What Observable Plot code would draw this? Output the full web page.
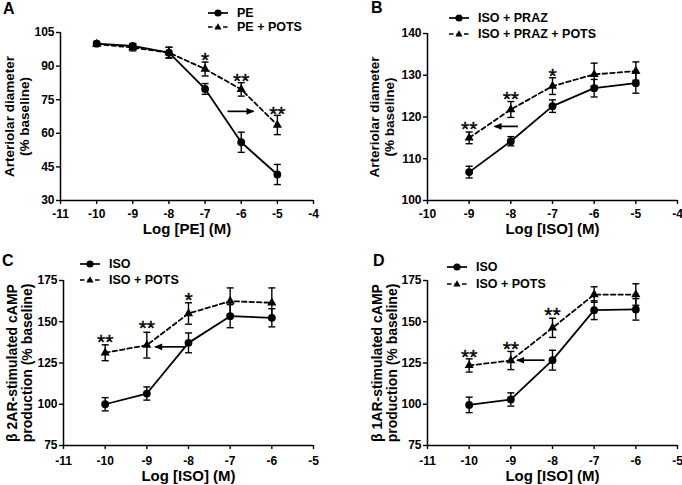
<!DOCTYPE html>
<html><head><meta charset="utf-8">
<script src="https://cdn.jsdelivr.net/npm/d3@7"></script>
<script src="https://cdn.jsdelivr.net/npm/@observablehq/plot@0.6"></script>
<style>
body{margin:0;background:#fff;}
#wrap{position:relative;width:682px;height:485px;overflow:hidden;font-family:"Liberation Sans",Arial,sans-serif;background:#fff;}
.panel{position:absolute;}
.letter{position:absolute;font-weight:bold;font-size:16px;line-height:16px;}
.row{position:absolute;display:flex;align-items:center;height:14px;font-weight:bold;font-size:12.5px;white-space:nowrap;}
.row span{margin-left:8px;}
</style></head><body><div id="wrap"></div>
<script>
// ---------- data ----------
// Panel A
const xA = [-10, -9, -8, -7, -6, -5];
const peMean = [100, 99, 96, 79.8, 56, 41.6];
const peErr = [1, 1, 2.4, 2.4, 4.5, 4.5];
const pePotsMean = [99.8, 98.3, 96, 88.7, 79.6, 63.7];
const pePotsErr = [0.8, 1.5, 2.4, 3.1, 3, 4.3];
const sigAx = [-7, -6, -5], sigAy = [95.4, 85.8, 71.1], sigAt = ["*", "**", "**"];
const arrowA = {x1: -6.38, x2: -5.66, y: 69.8};
// Panel B
const xB = [-9, -8, -7, -6, -5];
const isoPrazMean = [106.8, 114.2, 122.6, 126.9, 128.1];
const isoPrazErr = [1.4, 1.1, 1.5, 2.1, 2.4];
const isoPrazPotsMean = [115, 121.8, 127.4, 130.2, 131];
const isoPrazPotsErr = [1.4, 1.9, 2, 2.7, 2.2];
const sigBx = [-9, -8, -7], sigBy = [118.4, 125.7, 131.2], sigBt = ["**", "**", "*"];
const arrowB = {x1: -7.83, x2: -8.39, y: 117.75};
// Panel C
const xC = [-10, -9, -8, -7, -6];
const isoCMean = [100, 106.5, 137.2, 153.4, 152.4];
const isoCErr = [4, 4, 6, 7, 5.5];
const isoPotsCMean = [131.2, 135.8, 155, 162.5, 161.5];
const isoPotsCErr = [4.8, 7.8, 6.5, 8, 9];
const sigCx = [-10, -9, -8], sigCy = [141.3, 149.4, 166.5], sigCt = ["**", "**", "*"];
const arrowC = {x1: -8.08, x2: -8.8, y: 134.8};
// Panel D
const xD = [-10, -9, -8, -7, -6];
const isoDMean = [99.6, 102.9, 126.7, 157, 157.5];
const isoDErr = [4.7, 4, 6, 5.7, 6.5];
const isoPotsDMean = [123.5, 126.5, 146.3, 166.5, 166.5];
const isoPotsDErr = [4, 5.5, 5.8, 4.7, 6.5];
const sigDx = [-10, -9, -8], sigDy = [132.2, 136.8, 157.4], sigDt = ["**", "**", "**"];
const arrowD = {x1: -8.19, x2: -8.85, y: 126.7};

// tick values
const xTicksA = [-11, -10, -9, -8, -7, -6, -5, -4];
const yTicksA = [30, 45, 60, 75, 90, 105];
const xTicksB = [-10, -9, -8, -7, -6, -5, -4];
const yTicksB = [100, 110, 120, 130, 140];
const xTicksCD = [-11, -10, -9, -8, -7, -6, -5];
const yTicksCD = [75, 100, 125, 150, 175];

// ---------- helpers ----------
const FONT = '"Liberation Sans", Arial, sans-serif';
const capSymbol = {draw(ctx, size) { const r = Math.sqrt(size / Math.PI); ctx.moveTo(-r, 0); ctx.lineTo(r, 0); }};
const headRight = {draw(ctx) { ctx.moveTo(1, 0); ctx.lineTo(-7, -3.3); ctx.lineTo(-7, 3.3); ctx.closePath(); }};
const headLeft = {draw(ctx) { ctx.moveTo(-1, 0); ctx.lineTo(7, -3.3); ctx.lineTo(7, 3.3); ctx.closePath(); }};

function panel(o) {
  const d1 = o.xs.map((x, i) => ({x, y: o.m1[i], e: o.e1[i]}));
  const d2 = o.xs.map((x, i) => ({x, y: o.m2[i], e: o.e2[i]}));
  const all = d1.concat(d2);
  const caps = all.flatMap(d => [{x: d.x, y: d.y + d.e}, {x: d.x, y: d.y - d.e}]);
  const sig = o.sx.map((x, i) => ({x, y: o.sy[i], t: o.st[i]}));
  const arr = [o.arrow];
  return Plot.plot({
    width: o.w, height: o.h,
    marginLeft: o.ml, marginRight: o.mr, marginTop: o.mt, marginBottom: o.mb,
    style: {fontFamily: FONT, fontSize: "12px", fontWeight: "bold", color: "black", background: "transparent", overflow: "visible"},
    x: {domain: o.xDomain},
    y: {domain: o.yDomain},
    marks: [
      Plot.axisX({ticks: o.xTicks, tickSize: 4, tickPadding: o.xtp, strokeWidth: 1.4, tickFormat: d => String(d), label: null}),
      Plot.axisY({ticks: o.yTicks, tickSize: 4, tickPadding: 2, strokeWidth: 1.4, tickFormat: d => String(d), label: null}),
      Plot.ruleX([o.xDomain[0]], {strokeWidth: 1.5}),
      Plot.ruleY([o.yDomain[0]], {strokeWidth: 1.5}),
      Plot.ruleX(all, {x: "x", y1: d => d.y - d.e, y2: d => d.y + d.e, strokeWidth: 1.4}),
      Plot.dot(caps, {x: "x", y: "y", symbol: capSymbol, r: 3.5, fill: "none", stroke: "black", strokeWidth: 1.4}),
      Plot.line(d1, {x: "x", y: "y", stroke: "black", strokeWidth: 1.8}),
      Plot.line(d2, {x: "x", y: "y", stroke: "black", strokeWidth: 1.8, strokeDasharray: "4.5,3"}),
      Plot.dot(d1, {x: "x", y: "y", symbol: "circle", r: 3.9, fill: "black", stroke: "none"}),
      Plot.dot(d2, {x: "x", y: "y", symbol: "triangle", r: 3.4, fill: "black", stroke: "none"}),
      Plot.text(sig, {x: "x", y: "y", text: "t", fontFamily: FONT, fontWeight: "normal", fontSize: 21, dy: 6, lineAnchor: "middle", fill: "black", stroke: "black", strokeWidth: 0.4}),
      Plot.link(arr, {x1: "x1", x2: "x2", y1: "y", y2: "y", stroke: "black", strokeWidth: 1.7}),
      Plot.dot(arr, {x: "x2", y: "y", symbol: o.arrow.x2 > o.arrow.x1 ? headRight : headLeft, r: 4, fill: "black", stroke: "none"}),
      Plot.text([o.yTitle], {frameAnchor: "left", textAnchor: "middle", rotate: -90, dx: o.ytDx, fontSize: o.ytSize, lineHeight: 1.1, lineAnchor: "middle", fill: "black"}),
      Plot.text([o.xTitle], {frameAnchor: "bottom", textAnchor: "middle", dy: o.xtDy, fontSize: 15, lineAnchor: "middle", fill: "black"})
    ]
  });
}

const wrap = document.getElementById("wrap");
function place(node, left, top) {
  const d = document.createElement("div");
  d.className = "panel"; d.style.left = left + "px"; d.style.top = top + "px";
  d.appendChild(node); wrap.appendChild(d);
}
function letter(t, left, top) {
  const d = document.createElement("div");
  d.className = "letter"; d.textContent = t; d.style.left = left + "px"; d.style.top = top + "px";
  wrap.appendChild(d);
}
function legendRow(label, dashed, left, yc) {
  const d = document.createElement("div");
  d.className = "row"; d.style.left = left + "px"; d.style.top = (yc - 7) + "px";
  const marker = dashed
    ? '<path d="M11,3.2 L14.6,9.5 L7.4,9.5 Z" fill="black"/>'
    : '<circle cx="11" cy="7" r="3.6" fill="black"/>';
  d.innerHTML = '<svg width="22" height="14"><line x1="1" y1="7" x2="21" y2="7" stroke="black" stroke-width="1.7"' +
    (dashed ? ' stroke-dasharray="4.5,3"' : '') + '/>' + marker + '</svg><span>' + label + '</span>';
  wrap.appendChild(d);
}

place(panel({xs: xA, m1: peMean, e1: peErr, m2: pePotsMean, e2: pePotsErr,
  sx: sigAx, sy: sigAy, st: sigAt, arrow: arrowA,
  w: 341, h: 242, ml: 60, mr: 28, mt: 32, mb: 42, xtp: 5,
  xDomain: [-11, -4], yDomain: [30, 105], xTicks: xTicksA, yTicks: yTicksA,
  yTitle: "Arteriolar diameter\n(% baseline)", ytDx: -44, ytSize: 13.5,
  xTitle: "Log [PE] (M)", xtDy: 29}), 0, 0);

place(panel({xs: xB, m1: isoPrazMean, e1: isoPrazErr, m2: isoPrazPotsMean, e2: isoPrazPotsErr,
  sx: sigBx, sy: sigBy, st: sigBt, arrow: arrowB,
  w: 341, h: 242, ml: 86, mr: 5, mt: 33, mb: 42, xtp: 5,
  xDomain: [-10, -4], yDomain: [100, 140], xTicks: xTicksB, yTicks: yTicksB,
  yTitle: "Arteriolar diameter\n(% baseline)", ytDx: -46, ytSize: 13.5,
  xTitle: "Log [ISO] (M)", xtDy: 29}), 341, 0);

place(panel({xs: xC, m1: isoCMean, e1: isoCErr, m2: isoPotsCMean, e2: isoPotsCErr,
  sx: sigCx, sy: sigCy, st: sigCt, arrow: arrowC,
  w: 341, h: 243, ml: 63, mr: 28, mt: 38, mb: 40, xtp: 7,
  xDomain: [-11, -5], yDomain: [75, 175], xTicks: xTicksCD, yTicks: yTicksCD,
  yTitle: "β 2AR-stimulated cAMP\nproduction (% baseline)", ytDx: -44, ytSize: 14,
  xTitle: "Log [ISO] (M)", xtDy: 31}), 0, 242);

place(panel({xs: xD, m1: isoDMean, e1: isoDErr, m2: isoPotsDMean, e2: isoPotsDErr,
  sx: sigDx, sy: sigDy, st: sigDt, arrow: arrowD,
  w: 341, h: 243, ml: 86, mr: 5, mt: 38, mb: 40, xtp: 7,
  xDomain: [-11, -5], yDomain: [75, 175], xTicks: xTicksCD, yTicks: yTicksCD,
  yTitle: "β 1AR-stimulated cAMP\nproduction (% baseline)", ytDx: -43, ytSize: 14,
  xTitle: "Log [ISO] (M)", xtDy: 31}), 341, 242);

letter("A", 3, 1);
letter("B", 371, 0);
letter("C", 2, 253);
letter("D", 373, 253);

legendRow("PE", false, 207, 13);
legendRow("PE + POTS", true, 207, 27);
legendRow("ISO + PRAZ", false, 448, 18);
legendRow("ISO + PRAZ + POTS", true, 448, 34);
legendRow("ISO", false, 79, 264);
legendRow("ISO + POTS", true, 79, 280);
legendRow("ISO", false, 446, 267);
legendRow("ISO + POTS", true, 446, 284);
</script></body></html>
